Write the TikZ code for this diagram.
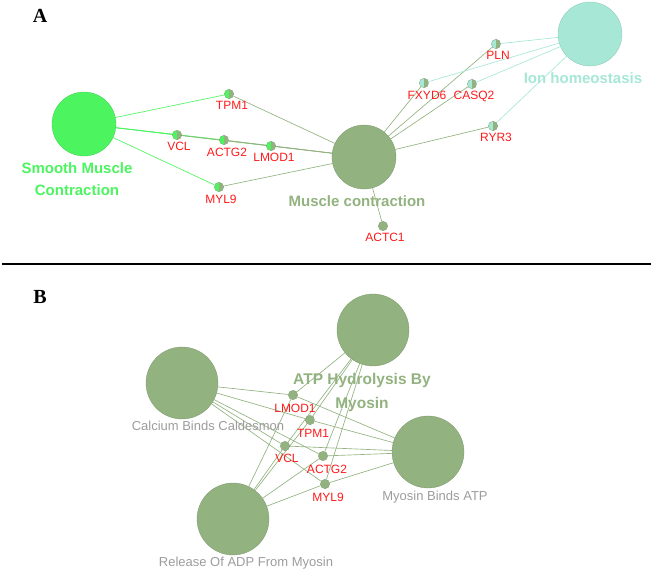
\documentclass[tikz,border=0pt]{standalone}
\usepackage{fontspec}
\setmainfont{Liberation Sans}
\newfontfamily\panelfont{Liberation Serif}
\usetikzlibrary{backgrounds}

\definecolor{smcgreen}{HTML}{4CF460}
\definecolor{sage}{HTML}{92B27F}
\definecolor{ionteal}{HTML}{A6E7D6}
\definecolor{genered}{HTML}{FF1A1A}
\definecolor{termgray}{HTML}{9C9C9C}

\tikzset{
  term/.style={circle,fill=#1,draw=#1!85!black,line width=0.3pt,minimum size=64pt,inner sep=0pt},
  bigterm/.style={term=sage,minimum size=72pt},
  gene/.style 2 args={circle,minimum size=9.5pt,inner sep=0pt,draw=#2!80!black,line width=0.2pt,
    path picture={\fill[#1] (path picture bounding box.south west) rectangle (path picture bounding box.north);
      \fill[#2] (path picture bounding box.south) rectangle (path picture bounding box.north east);}},
  glabel/.style={text=genered,font=\fontsize{12}{12}\selectfont,inner sep=0pt},
  tlabel/.style={text=#1,font=\fontsize{15}{22}\selectfont\bfseries,align=center,inner sep=0pt},
  glabelgray/.style={text=termgray,font=\fontsize{13}{13}\selectfont,inner sep=0pt},
  edge/.style={draw=#1,line width=0.65pt}
}

\begin{document}
\begin{tikzpicture}[x=1pt,y=-1pt]
\useasboundingbox (0,0) rectangle (654,573);

% panel A
\node[font=\fontsize{20}{20}\selectfont\panelfont\bfseries] (pa) at (40,16) {A};
\node[term=smcgreen] (smc) at (84,124) {};
\node[term=sage] (mc) at (364,157) {};
\node[term=ionteal] (ion) at (590,34) {};
\node[tlabel=smcgreen] (smcl) at (77,179) {Smooth Muscle\\Contraction};
\node[tlabel=sage] (mcl) at (357,201) {Muscle contraction};
\node[tlabel=ionteal] (ionl) at (583,78) {Ion homeostasis};

\node[gene={smcgreen}{sage}] (tpm) at (229,94) {};
\node[gene={smcgreen}{sage}] (vcl) at (177,135) {};
\node[gene={smcgreen}{sage}] (actg) at (224,140) {};
\node[gene={smcgreen}{sage}] (lmod) at (271,146) {};
\node[gene={smcgreen}{sage}] (myl) at (219,187) {};
\node[gene={sage}{sage}] (actc) at (383,226) {};
\node[gene={ionteal}{sage}] (pln) at (496,44) {};
\node[gene={ionteal}{sage}] (fxyd) at (424,83) {};
\node[gene={ionteal}{sage}] (casq) at (472,84) {};
\node[gene={ionteal}{sage}] (ryr) at (493,126) {};

\node[glabel] at (232,105) {TPM1};
\node[glabel] at (179,146) {VCL};
\node[glabel] at (227,152) {ACTG2};
\node[glabel] at (274,157) {LMOD1};
\node[glabel] at (221,199) {MYL9};
\node[glabel] at (385,237) {ACTC1};
\node[glabel] at (498,55) {PLN};
\node[glabel] at (427,95) {FXYD6};
\node[glabel] at (474,96) {CASQ2};
\node[glabel] at (496,137) {RYR3};

\begin{scope}[on background layer]
\foreach \g in {tpm,vcl,actg,lmod,myl}
  \draw[edge=smcgreen] (smc) -- (\g);
\foreach \g in {tpm,vcl,actg,lmod,myl,actc,pln,fxyd,casq,ryr}
  \draw[edge=sage] (mc) -- (\g);
\foreach \g in {pln,fxyd,casq,ryr}
  \draw[edge=ionteal] (ion) -- (\g);
\end{scope}

% separator
\coordinate (sl) at (2,264);
\coordinate (sr) at (651,264);
\draw[line width=1.2pt] (sl) -- (sr);

% panel B
\node[font=\fontsize{20}{20}\selectfont\panelfont\bfseries] (pb) at (40,297) {B};
\node[bigterm] (atp) at (373,330) {};
\node[bigterm] (cal) at (182,383) {};
\node[bigterm] (mba) at (428,452) {};
\node[bigterm] (rel) at (233,519) {};
\node[tlabel=sage,font=\fontsize{15.5}{24}\selectfont\bfseries] (atpl) at (362,392) {ATP Hydrolysis By\\Myosin};
\node[glabelgray] (call) at (208,426) {Calcium Binds Caldesmon};
\node[glabelgray] (mbal) at (435,497) {Myosin Binds ATP};
\node[glabelgray] (rell) at (246,563) {Release Of ADP From Myosin};

\node[gene={sage}{sage}] (blmod) at (293,395) {};
\node[gene={sage}{sage}] (btpm) at (310,420) {};
\node[gene={sage}{sage}] (bvcl) at (285,446) {};
\node[gene={sage}{sage}] (bactg) at (323,456) {};
\node[gene={sage}{sage}] (bmyl) at (325,484) {};
\node[glabel] at (295,408) {LMOD1};
\node[glabel] at (313,433) {TPM1};
\node[glabel] at (287,458) {VCL};
\node[glabel] at (327,469) {ACTG2};
\node[glabel] at (328,497) {MYL9};

\begin{scope}[on background layer]
\foreach \g in {blmod,btpm,bvcl,bactg,bmyl}
  \foreach \t in {atp,cal,mba,rel}
    \draw[edge=sage] (\t) -- (\g);
\end{scope}
\end{tikzpicture}
\end{document}
